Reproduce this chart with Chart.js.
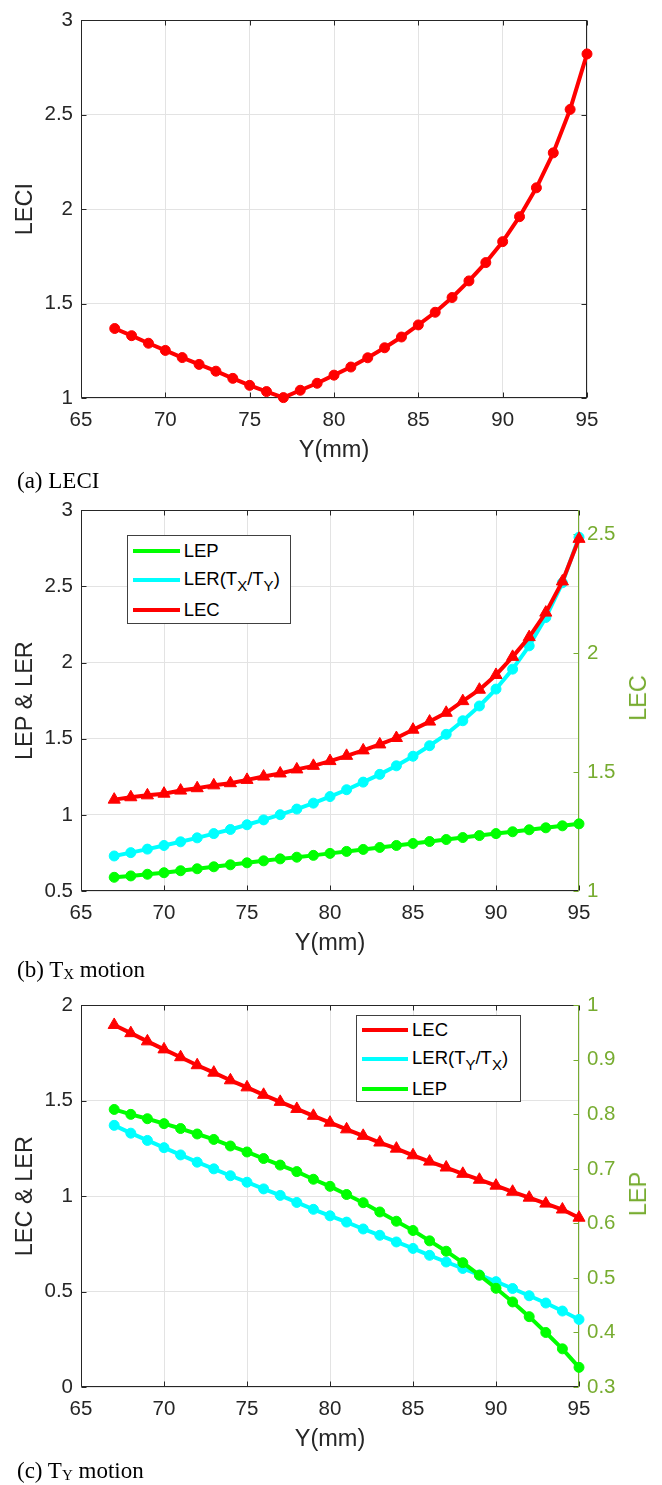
<!DOCTYPE html>
<html><head><meta charset="utf-8">
<script src="https://cdn.jsdelivr.net/npm/chart.js@4.4.1/dist/chart.umd.min.js"></script>
<style>
html,body{margin:0;padding:0;background:#fff}
body{width:662px;height:1485px;position:relative;overflow:hidden;font-family:"Liberation Sans",Arial,sans-serif}
canvas{position:absolute;left:0}
.cap{position:absolute;left:17px;font-family:"Liberation Serif","Times New Roman",serif;font-size:23px;line-height:22px;color:#000;white-space:nowrap;z-index:5}
.cap sub{font-size:15px;vertical-align:-2px;line-height:0}
.rt{position:absolute;font-size:23.5px;line-height:28px;color:#77AC30;white-space:nowrap;transform:translate(-50%,-50%) rotate(-90deg);z-index:5}
.leg{position:absolute;background:#fff;border:1px solid #404040;box-sizing:border-box;z-index:5}
.leg .ln{position:absolute;height:4px}
.leg .tx{position:absolute;font-size:18.5px;line-height:22px;color:#000;white-space:nowrap}
.leg .tx sub{font-size:15px;vertical-align:-6px;line-height:0}
</style>
</head><body>
<canvas id="ca" width="662" height="470" style="top:0px"></canvas>
<canvas id="cb" width="662" height="473" style="top:490px"></canvas>
<canvas id="cc" width="662" height="474" style="top:985px"></canvas>

<div class="cap" style="top:470.2px">(a) LECI</div>
<div class="cap" style="top:959.2px">(b) T<sub>X</sub> motion</div>
<div class="cap" style="top:1460.2px">(c) T<sub>Y</sub> motion</div>

<div class="rt" style="left:638px;top:697.5px">LEC</div>
<div class="rt" style="left:638px;top:1193.5px">LEP</div>

<div class="leg" style="left:127px;top:535px;width:164px;height:89px">
  <div class="ln" style="left:5px;width:47px;top:12.7px;background:#00ff00"></div>
  <div class="tx" style="left:55.7px;top:3.7px">LEP</div>
  <div class="ln" style="left:5px;width:47px;top:42.3px;background:#00ffff"></div>
  <div class="tx" style="left:55.7px;top:31.5px">LER(T<sub>X</sub>/T<sub>Y</sub>)</div>
  <div class="ln" style="left:5px;width:47px;top:71.7px;background:#ff0000"></div>
  <div class="tx" style="left:55.7px;top:62.7px">LEC</div>
</div>

<div class="leg" style="left:356px;top:1015px;width:165px;height:87px">
  <div class="ln" style="left:5px;width:46px;top:11.7px;background:#ff0000"></div>
  <div class="tx" style="left:55px;top:2.7px">LEC</div>
  <div class="ln" style="left:5px;width:46px;top:41.3px;background:#00ffff"></div>
  <div class="tx" style="left:55px;top:30.5px">LER(T<sub>Y</sub>/T<sub>X</sub>)</div>
  <div class="ln" style="left:5px;width:46px;top:71px;background:#00ff00"></div>
  <div class="tx" style="left:55px;top:62px">LEP</div>
</div>

<script>
// ---------- data ----------
const yPos = [67,68,69,70,71,72,73,74,75,76,77,78,79,80,81,82,83,84,85,86,87,88,89,90,91,92,93,94,95];

// (a) LECI
const leciA = [1.368,1.330,1.290,1.252,1.214,1.178,1.142,1.104,1.067,1.034,1.002,1.041,1.078,1.121,1.164,1.213,1.266,1.323,1.387,1.454,1.532,1.620,1.717,1.828,1.960,2.113,2.298,2.528,2.822];

// (b) TX motion
const lepB = [0.590,0.599,0.610,0.620,0.633,0.646,0.659,0.672,0.685,0.698,0.711,0.722,0.734,0.747,0.760,0.773,0.786,0.799,0.812,0.825,0.838,0.851,0.864,0.877,0.889,0.902,0.915,0.928,0.941];
const lerB = [0.730,0.752,0.775,0.799,0.823,0.849,0.877,0.904,0.935,0.967,1.001,1.038,1.077,1.120,1.165,1.215,1.266,1.322,1.385,1.454,1.529,1.618,1.715,1.826,1.957,2.110,2.296,2.524,2.823];
const lecB = [1.384,1.394,1.402,1.409,1.422,1.432,1.444,1.453,1.467,1.481,1.494,1.511,1.526,1.546,1.568,1.591,1.616,1.643,1.678,1.712,1.749,1.798,1.846,1.908,1.984,2.067,2.170,2.301,2.480];

// (c) TY motion
const lecC = [1.897,1.854,1.811,1.769,1.728,1.686,1.647,1.607,1.570,1.531,1.494,1.457,1.421,1.385,1.350,1.316,1.281,1.249,1.214,1.181,1.150,1.117,1.086,1.055,1.023,0.992,0.961,0.930,0.887];
const lerC = [1.371,1.330,1.292,1.254,1.216,1.178,1.143,1.107,1.073,1.038,1.004,0.967,0.931,0.897,0.864,0.828,0.795,0.760,0.726,0.690,0.655,0.621,0.587,0.552,0.516,0.478,0.440,0.398,0.354];
const lepC = [0.809,0.800,0.792,0.783,0.774,0.764,0.754,0.742,0.731,0.719,0.707,0.695,0.681,0.668,0.653,0.638,0.621,0.604,0.587,0.568,0.549,0.528,0.505,0.481,0.456,0.429,0.400,0.370,0.336];

// tick labels
const xTicks = [65,70,75,80,85,90,95];
const yTicksA = [1,1.5,2,2.5,3];
const yTicksBLeft = [0.5,1,1.5,2,2.5,3];
const yTicksBRight = [1,1.5,2,2.5];
const yTicksCLeft = [0,0.5,1,1.5,2];
const yTicksCRight = [0.3,0.4,0.5,0.6,0.7,0.8,0.9,1];

// ---------- helpers ----------
const AX = '#262626', GREEN_AX = '#77AC30', GRID = '#e3e3e3';
const fmt = v => String(Number(Number(v).toFixed(3)));
const pts = arr => yPos.map((x, i) => ({x, y: arr[i]}));
const setTicks = list => s => { s.ticks = list.map(v => ({value: v})); };

const framePlugin = {
  id: 'frame',
  beforeDatasetsDraw(chart, args, opts) {
    const {ctx, chartArea: {left, right, top, bottom}} = chart;
    const L = Math.round(left) + 0.5, R = Math.round(right) - 0.5;
    const T = Math.round(top) + 0.5, B = Math.round(bottom) - 0.5;
    const tl = 5;
    ctx.save();
    ctx.lineWidth = 1;
    ctx.strokeStyle = AX;
    ctx.beginPath();
    const xs = chart.scales.x;
    xs.ticks.forEach(t => {
      const p = Math.round(xs.getPixelForValue(t.value)) + 0.5;
      ctx.moveTo(p, B); ctx.lineTo(p, B - tl);
      ctx.moveTo(p, T); ctx.lineTo(p, T + tl);
    });
    const ys = chart.scales.y;
    ys.ticks.forEach(t => {
      const p = Math.round(ys.getPixelForValue(t.value)) + 0.5;
      ctx.moveTo(L, p); ctx.lineTo(L + tl, p);
      if (!opts.dual) { ctx.moveTo(R, p); ctx.lineTo(R - tl, p); }
    });
    ctx.moveTo(L, T); ctx.lineTo(L, B); ctx.lineTo(R + 0.5, B);
    ctx.moveTo(L - 0.5, T); ctx.lineTo(R + 0.5, T);
    if (!opts.dual) { ctx.moveTo(R, T); ctx.lineTo(R, B); }
    ctx.stroke();
    if (opts.dual) {
      const y2 = chart.scales.y2;
      ctx.strokeStyle = GREEN_AX;
      ctx.beginPath();
      ctx.moveTo(R, T - 0.5); ctx.lineTo(R, B + 0.5);
      y2.ticks.forEach(t => {
        const p = Math.round(y2.getPixelForValue(t.value)) + 0.5;
        ctx.moveTo(R, p); ctx.lineTo(R - tl, p);
      });
      ctx.stroke();
    }
    ctx.restore();
  }
};

const tickFont = {family: '"Liberation Sans", Arial, sans-serif', size: 20.5};
const titleFont = {family: '"Liberation Sans", Arial, sans-serif', size: 23.5};

function xScale() {
  return {
    type: 'linear', min: 65, max: 95,
    afterBuildTicks: setTicks(xTicks),
    afterFit: s => { s.height = 72; },
    grid: {color: GRID, drawTicks: false, lineWidth: 1},
    border: {display: false},
    ticks: {color: AX, font: tickFont, padding: 10, maxRotation: 0, autoSkip: false, callback: v => fmt(v)},
    title: {display: true, text: 'Y(mm)', color: AX, font: titleFont, padding: {top: 0, bottom: 5}}
  };
}
function yLeft(min, max, list, title) {
  return {
    type: 'linear', position: 'left', min, max,
    afterBuildTicks: setTicks(list),
    afterFit: s => { s.width = 81; },
    grid: {color: GRID, drawTicks: false, lineWidth: 1},
    border: {display: false},
    ticks: {color: AX, font: tickFont, padding: 8, autoSkip: false, callback: v => fmt(v)},
    title: {display: true, text: title, color: AX, font: titleFont, padding: {top: 11.4, bottom: 0}}
  };
}
function yRight(min, max, list) {
  return {
    type: 'linear', position: 'right', min, max,
    afterBuildTicks: setTicks(list),
    afterFit: s => { s.width = 83; },
    grid: {display: false, drawTicks: false},
    border: {display: false},
    ticks: {color: GREEN_AX, font: tickFont, padding: 8, autoSkip: false, callback: v => fmt(v)}
  };
}
function ds(arr, color, style, axis, order) {
  return {
    data: pts(arr), borderColor: color, backgroundColor: color,
    borderWidth: 4, pointStyle: style, pointRadius: style === 'triangle' ? 7 : 5,
    pointBorderWidth: 1, pointBorderColor: color, pointBackgroundColor: color,
    tension: 0, clip: false, yAxisID: axis, order,
    borderJoinStyle: 'round', borderCapStyle: 'round'
  };
}
const common = {
  responsive: false, animation: false, devicePixelRatio: 1,
  plugins: {legend: {display: false}, tooltip: {enabled: false}},
  events: []
};

new Chart(document.getElementById('ca'), {
  type: 'line',
  data: {datasets: [ds(leciA, '#ff0000', 'circle', 'y', 0)]},
  options: Object.assign({}, common, {
    layout: {padding: {top: 13, right: 75, left: 0, bottom: 0}},
    plugins: Object.assign({}, common.plugins, {frame: {dual: false}}),
    scales: {x: xScale(), y: yLeft(1, 3, yTicksA, 'LECI')}
  }),
  plugins: [framePlugin]
});

new Chart(document.getElementById('cb'), {
  type: 'line',
  data: {datasets: [
    ds(lepB, '#00ff00', 'circle', 'y', 2),
    ds(lerB, '#00ffff', 'circle', 'y', 1),
    ds(lecB, '#ff0000', 'triangle', 'y2', 0)
  ]},
  options: Object.assign({}, common, {
    layout: {padding: {top: 14, right: 0, left: 0, bottom: 0}},
    plugins: Object.assign({}, common.plugins, {frame: {dual: true}}),
    scales: {x: xScale(), y: yLeft(0.5, 3, yTicksBLeft, 'LEP & LER'), y2: yRight(1, 2.6, yTicksBRight)}
  }),
  plugins: [framePlugin]
});

new Chart(document.getElementById('cc'), {
  type: 'line',
  data: {datasets: [
    ds(lecC, '#ff0000', 'triangle', 'y', 2),
    ds(lerC, '#00ffff', 'circle', 'y', 1),
    ds(lepC, '#00ff00', 'circle', 'y2', 0)
  ]},
  options: Object.assign({}, common, {
    layout: {padding: {top: 15, right: 0, left: 0, bottom: 0}},
    plugins: Object.assign({}, common.plugins, {frame: {dual: true}}),
    scales: {x: xScale(), y: yLeft(0, 2, yTicksCLeft, 'LEC & LER'), y2: yRight(0.3, 1, yTicksCRight)}
  }),
  plugins: [framePlugin]
});
</script>
</body></html>
